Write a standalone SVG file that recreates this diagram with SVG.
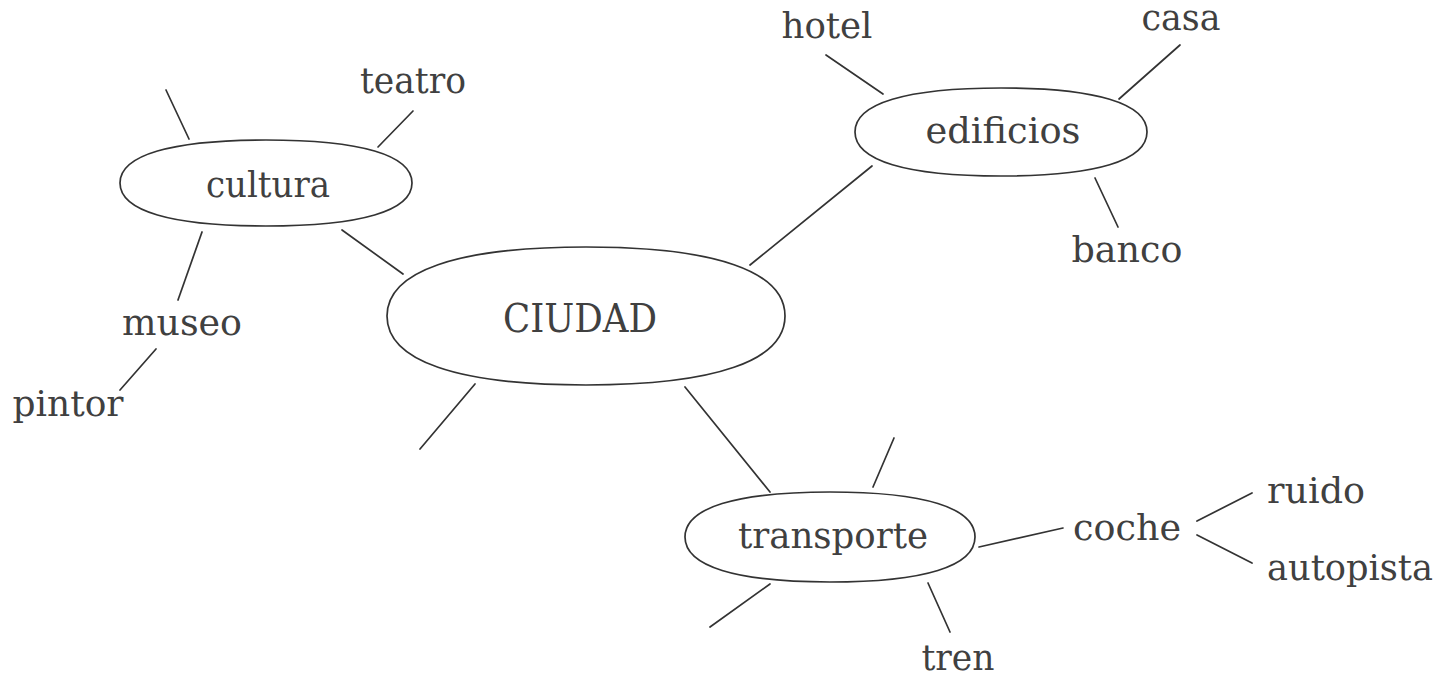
<svg xmlns="http://www.w3.org/2000/svg" width="1443" height="676" viewBox="0 0 1443 676">
<style>
.bg{fill:#ffffff}
.node path{fill:#ffffff;stroke:#333333;stroke-width:1.7}
.conn line{stroke:#333333;stroke-width:1.7;stroke-linecap:round}
text{font-family:"DejaVu Serif","Liberation Serif",serif;fill:#404040;font-size:35px;text-anchor:middle}
.big{font-size:40px}
.left{text-anchor:start}
</style>
<rect class="bg" width="1443" height="676"/>
<g id="connectors" class="conn">
<line x1="166" y1="90" x2="189" y2="139"/>
<line x1="413" y1="111" x2="378" y2="147"/>
<line x1="342" y1="230" x2="403" y2="274"/>
<line x1="202" y1="232" x2="178" y2="300"/>
<line x1="156" y1="349" x2="120" y2="390"/>
<line x1="475" y1="384" x2="420" y2="449"/>
<line x1="685" y1="387" x2="770" y2="492"/>
<line x1="750" y1="265" x2="872" y2="166"/>
<line x1="826" y1="55" x2="883" y2="94"/>
<line x1="1180" y1="45" x2="1119" y2="99"/>
<line x1="1095" y1="178" x2="1118" y2="227"/>
<line x1="894" y1="438" x2="873" y2="487"/>
<line x1="770" y1="584" x2="710" y2="627"/>
<line x1="928" y1="583" x2="950" y2="632"/>
<line x1="979" y1="547" x2="1063" y2="528"/>
<line x1="1197" y1="521" x2="1252" y2="493"/>
<line x1="1197" y1="535" x2="1252" y2="563"/>
</g>
<g id="node-ciudad" class="node">
<path d="M387,316 C387,271.15 456.65,247 586,247 C715.35,247 785,271.15 785,316 C785,360.85 715.35,385 586,385 C456.65,385 387,360.85 387,316Z"/>
<text class="big" x="580" y="332" textLength="154" lengthAdjust="spacingAndGlyphs">CIUDAD</text>
</g>
<g id="node-cultura" class="node">
<path d="M120,183 C120,155.05 171.1,140 266,140 C360.9,140 412,155.05 412,183 C412,210.95 360.9,226 266,226 C171.1,226 120,210.95 120,183Z"/>
<text x="268" y="197" textLength="124" lengthAdjust="spacingAndGlyphs">cultura</text>
</g>
<g id="node-edificios" class="node">
<path d="M855,132 C855,103.4 906.1,88 1001,88 C1095.9,88 1147,103.4 1147,132 C1147,160.6 1095.9,176 1001,176 C906.1,176 855,160.6 855,132Z"/>
<text x="1003" y="143" textLength="155" lengthAdjust="spacingAndGlyphs">edificios</text>
</g>
<g id="node-transporte" class="node">
<path d="M685,537 C685,507.75 735.75,492 830,492 C924.25,492 975,507.75 975,537 C975,566.25 924.25,582 830,582 C735.75,582 685,566.25 685,537Z"/>
<text x="833" y="548" textLength="190" lengthAdjust="spacingAndGlyphs">transporte</text>
</g>
<g id="node-teatro"><text x="413" y="93" textLength="106" lengthAdjust="spacingAndGlyphs">teatro</text></g>
<g id="node-museo"><text x="182" y="335" textLength="120" lengthAdjust="spacingAndGlyphs">museo</text></g>
<g id="node-pintor"><text x="68" y="416" textLength="111" lengthAdjust="spacingAndGlyphs">pintor</text></g>
<g id="node-hotel"><text x="827" y="38" textLength="91" lengthAdjust="spacingAndGlyphs">hotel</text></g>
<g id="node-casa"><text x="1181" y="30" textLength="79" lengthAdjust="spacingAndGlyphs">casa</text></g>
<g id="node-banco"><text x="1127" y="262" textLength="111" lengthAdjust="spacingAndGlyphs">banco</text></g>
<g id="node-coche"><text x="1127" y="540" textLength="108" lengthAdjust="spacingAndGlyphs">coche</text></g>
<g id="node-ruido"><text class="left" x="1267" y="503" textLength="98" lengthAdjust="spacingAndGlyphs">ruido</text></g>
<g id="node-autopista"><text class="left" x="1267" y="580" textLength="166" lengthAdjust="spacingAndGlyphs">autopista</text></g>
<g id="node-tren"><text x="958" y="670" textLength="73" lengthAdjust="spacingAndGlyphs">tren</text></g>
</svg>
